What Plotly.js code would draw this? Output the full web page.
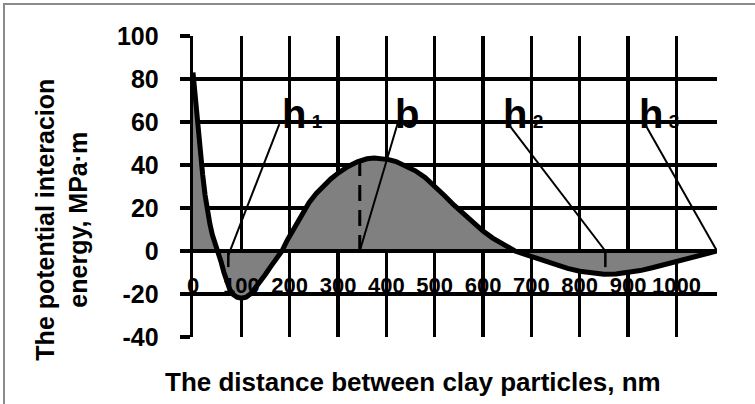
<!DOCTYPE html>
<html>
<head>
<meta charset="utf-8">
<script src="https://cdn.plot.ly/plotly-3.0.1.min.js"></script>
<style>
  html, body { margin: 0; padding: 0; background: #fff; }
  #wrap { position: relative; width: 755px; height: 404px; overflow: hidden; }
  #chart { position: absolute; left: 0; top: 0; width: 755px; height: 404px; }
  #frame { position: absolute; left: 3px; top: 3px; width: 800px; height: 450px;
           border-left: 2px solid #8a8a8a; border-top: 2px solid #8a8a8a; pointer-events: none; }
</style>
</head>
<body>
<div id="wrap">
  <div id="chart"></div>
  <div id="frame"></div>
</div>
<script>
// Interaction energy between clay particles vs. separation distance
const distanceNm = [0, 3, 6, 10, 15, 20, 25, 30, 35, 40,
  46, 52, 58, 64, 70, 76, 83, 91, 100, 110,
  120, 130, 140, 150, 160, 172, 184, 195, 210, 225,
  240, 255, 270, 285, 300, 320, 340, 360, 375, 390,
  405, 420, 440, 460, 480, 500, 520, 540, 560, 580,
  600, 620, 640, 655, 666, 690, 710, 730, 750, 775,
  800, 825, 850, 875, 900, 925, 950, 975, 1000, 1025,
  1050, 1084];
const energyMPa = [83, 75, 67, 58, 46, 35.5, 26, 18.5, 12.5, 7.5,
  3.5, 0, -5, -10, -14.5, -17.8, -20.2, -21.5, -22, -21.5,
  -19.8, -17, -14, -10.8, -7.5, -3.8, 0, 5, 11.2, 17.5,
  22.5, 26.8, 30.3, 33.5, 36.2, 39.2, 41.5, 42.9, 43.3, 43.1,
  42.5, 41.6, 39.6, 37.3, 34.2, 30.2, 25.8, 21.3, 17.2, 13,
  9.3, 6, 3.2, 1.3, 0, -1.8, -3.4, -5, -6.5, -8.1,
  -9.4, -10.3, -10.8, -10.7, -10.1, -9.1, -7.8, -6.3, -4.7, -3.2,
  -1.8, 0];

// Characteristic points on the distance axis and their labels
const SUB = '<span style="font-size:19px"> ';
const markNames = ['h' + SUB + '1</span>', 'b', 'h' + SUB + '2</span>', 'h' + SUB + '3</span>'];
const markAtX = [73, 345, 853, 1084];
const markAtY = [-2, 0, 0, 0];
const leaderTopX = [178.6, 423.6, 652.4, 935.2];
const leaderTopY = [59, 59.5, 59, 59];
const labelX = [186.8, 419.4, 644.1, 924.9];
const labelY = [57.8, 57.8, 57.8, 57.8];

// Short ticks marking h1 and h2 on the axis
const tickMarkX = [73, 853];
const tickMarkDepth = -7.5;

// Energy barrier b: dashed drop from the curve to the axis
const barrierX = [345, 345];
const barrierY = [0, 41.5];

const xTicks = [0, 100, 200, 300, 400, 500, 600, 700, 800, 900, 1000];
const yTicks = [-40, -20, 0, 20, 40, 60, 80, 100];
const xRange = [0, 1084];
const yRange = [-40, 100];

const FONT = 'Arial, "Liberation Sans", sans-serif';

const leaderX = [], leaderY = [];
markAtX.forEach((x, i) => {
  leaderX.push(leaderTopX[i], x, null);
  leaderY.push(leaderTopY[i], markAtY[i], null);
});
const tickX = [], tickY = [];
tickMarkX.forEach(x => { tickX.push(x, x, null); tickY.push(0, tickMarkDepth, null); });

const traces = [
  {
    x: distanceNm, y: energyMPa, type: 'scatter', mode: 'lines',
    fill: 'tozeroy', fillcolor: '#808080',
    line: { color: '#000', width: 5, shape: 'linear' },
    hoverinfo: 'skip'
  },
  {
    x: barrierX, y: barrierY, type: 'scatter', mode: 'lines',
    line: { color: '#000', width: 3, dash: '16px,9px' }, hoverinfo: 'skip'
  },
  {
    x: leaderX, y: leaderY, type: 'scatter', mode: 'lines',
    line: { color: '#000', width: 2 }, cliponaxis: false, hoverinfo: 'skip'
  },
  {
    x: tickX, y: tickY, type: 'scatter', mode: 'lines',
    line: { color: '#000', width: 2.5 }, hoverinfo: 'skip'
  }
];

const annotations = markNames.map((t, i) => ({
  text: t, x: labelX[i], y: labelY[i], xref: 'x', yref: 'y',
  xanchor: 'left', yanchor: 'bottom', showarrow: false,
  xshift: -3, yshift: -11,
  font: { family: FONT, size: 40, color: '#000', weight: 'bold' }
}));

annotations.push({
  text: 'The potential interacion<br>energy, MPa·m',
  xref: 'paper', yref: 'paper', x: -0.2501, y: 0.3897,
  xanchor: 'center', yanchor: 'middle', textangle: -90, showarrow: false,
  font: { family: FONT, size: 25, color: '#000', weight: 'bold' }
});
annotations.push({
  text: 'The distance between clay particles, nm',
  xref: 'paper', yref: 'paper', x: 0.42, y: -0.148,
  xanchor: 'center', yanchor: 'middle', showarrow: false,
  font: { family: FONT, size: 26, color: '#000', weight: 'bold' }
});

const layout = {
  width: 755, height: 404,
  margin: { l: 193, r: 38.3, t: 36.3, b: 66.7, pad: 0 },
  paper_bgcolor: '#fff', plot_bgcolor: '#fff',
  showlegend: false,
  xaxis: {
    range: xRange, tickvals: xTicks, ticktext: xTicks.map(String),
    showgrid: true, gridcolor: '#000', gridwidth: 3.3,
    zeroline: false, showline: true, linecolor: '#000', linewidth: 4,
    anchor: 'free', position: (0 - yRange[0]) / (yRange[1] - yRange[0]),
    ticks: '', ticklabelstandoff: 14,
    tickfont: { family: FONT, size: 22, color: '#000', weight: 'bold' },
    fixedrange: true
  },
  yaxis: {
    range: yRange, tickvals: yTicks, ticktext: yTicks.map(String),
    showgrid: true, gridcolor: '#000', gridwidth: 3.3,
    zeroline: false, showline: true, linecolor: '#000', linewidth: 3.3,
    ticks: 'outside', ticklen: 10, tickwidth: 3.3, tickcolor: '#000',
    ticklabelstandoff: 16,
    tickfont: { family: FONT, size: 25, color: '#000', weight: 'bold' },
    fixedrange: true
  },
  shapes: [{
    type: 'rect', layer: 'between', xref: 'paper', yref: 'y',
    x0: 0, x1: 1, y0: -18.6, y1: -4.6,
    fillcolor: '#fff', line: { width: 0 }
  }],
  annotations: annotations
};

Plotly.newPlot('chart', traces, layout, { staticPlot: true, displayModeBar: false });
</script>
</body>
</html>
